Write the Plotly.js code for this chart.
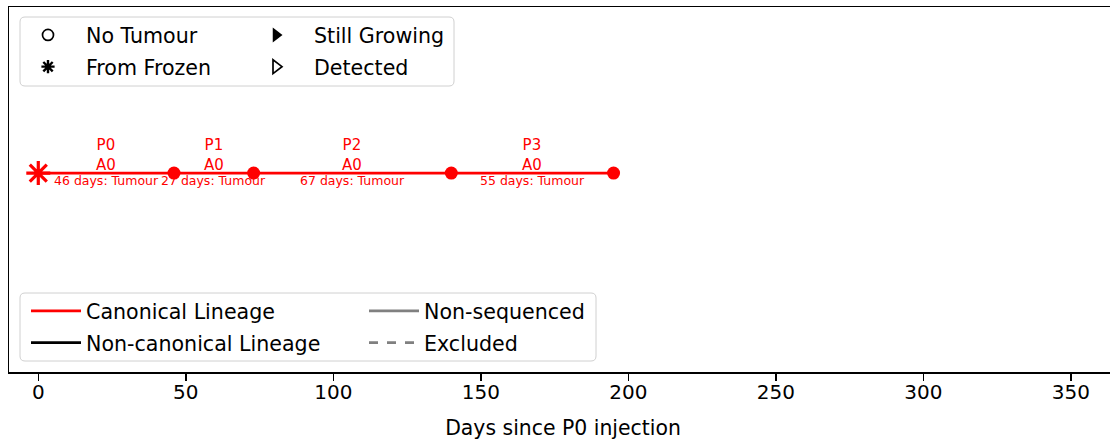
<!DOCTYPE html>
<html>
<head>
<meta charset="utf-8">
<script src="https://cdn.plot.ly/plotly-3.0.1.min.js"></script>
<style>
html, body { margin: 0; padding: 0; overflow: hidden; background: #fff; }
#chart { width: 1118px; height: 442px; }
</style>
</head>
<body>
<div id="chart"></div>
<script>
// ---- data ----
const eventDays = [0, 46, 73, 140, 195];
const passages = ['P0', 'P1', 'P2', 'P3'];
const arms = ['A0', 'A0', 'A0', 'A0'];
const intervalDays = [46, 27, 67, 55];
const outcomes = ['Tumour', 'Tumour', 'Tumour', 'Tumour'];
const lineageLevel = 0;
const xTickVals = [0, 50, 100, 150, 200, 250, 300, 350];
const xTickText = ['0', '50', '100', '150', '200', '250', '300', '350'];

// ---- layout geometry ----
const W = 1118, H = 442;
const M = { l: 9, r: 1, t: 7, b: 70 };
const plotW = W - M.l - M.r, plotH = H - M.t - M.b;
const px = v => (v - M.l) / plotW;
const py = v => (H - M.b - v) / plotH;
const FONT = 'DejaVu Sans';
const RED = '#ff0000';

function roundedBox(x0, y0, x1, y1, r) {
  const a = px(x0), b = px(x1), c = py(y0), d = py(y1);
  const rx = r / plotW, ry = r / plotH;
  return `M${a + rx},${c} L${b - rx},${c} Q${b},${c} ${b},${c - ry} ` +
         `L${b},${d + ry} Q${b},${d} ${b - rx},${d} L${a + rx},${d} ` +
         `Q${a},${d} ${a},${d + ry} L${a},${c - ry} Q${a},${c} ${a + rx},${c} Z`;
}

const ys = eventDays.map(() => lineageLevel);
const mids = passages.map((p, i) => (eventDays[i] + eventDays[i + 1]) / 2);

const traces = [
  { x: eventDays, y: ys, mode: 'lines', line: { color: RED, width: 2.6 },
    name: 'Canonical Lineage', legend: 'legend3', legendgroup: 'g5', hoverinfo: 'x' },
  { x: eventDays.slice(1), y: ys.slice(1), mode: 'markers',
    marker: { color: RED, size: 13, symbol: 'circle' }, showlegend: false },
  { x: eventDays.slice(0, 1), y: ys.slice(0, 1), mode: 'markers',
    marker: { color: RED, size: 20, symbol: 'asterisk-open', line: { color: RED, width: 3.2 } },
    showlegend: false },
  // legend proxies
  { x: [null], y: [null], mode: 'markers', name: 'No Tumour', legend: 'legend', legendgroup: 'g1',
    marker: { symbol: 'circle-open', size: 11, color: '#000', line: { color: '#000', width: 1.7 } } },
  { x: [null], y: [null], mode: 'markers', name: 'From Frozen', legend: 'legend', legendgroup: 'g2',
    marker: { symbol: 'asterisk-open', size: 11, color: '#000', line: { color: '#000', width: 2.4 } } },
  { x: [null], y: [null], mode: 'markers', name: 'Still Growing', legend: 'legend2', legendgroup: 'g3',
    marker: { symbol: 'triangle-right', size: 13, color: '#000' } },
  { x: [null], y: [null], mode: 'markers', name: 'Detected', legend: 'legend2', legendgroup: 'g4',
    marker: { symbol: 'triangle-right-open', size: 12, color: '#000', line: { color: '#000', width: 1.7 } } },
  { x: [null], y: [null], mode: 'lines', name: 'Non-canonical Lineage', legend: 'legend3', legendgroup: 'g6',
    line: { color: '#000', width: 2.6 } },
  { x: [null], y: [null], mode: 'lines', name: 'Non-sequenced', legend: 'legend4', legendgroup: 'g7',
    line: { color: '#808080', width: 2.6 } },
  { x: [null], y: [null], mode: 'lines', name: 'Excluded', legend: 'legend4', legendgroup: 'g8',
    line: { color: '#808080', width: 2.6, dash: 'dash' } }
];

const annotations = [];
passages.forEach((p, i) => {
  annotations.push({ x: mids[i], y: lineageLevel, xref: 'x', yref: 'y',
    text: p + '<br>' + arms[i], showarrow: false, xanchor: 'center', yanchor: 'bottom',
    yshift: -3, font: { family: FONT, size: 15, color: RED } });
  annotations.push({ x: mids[i], y: lineageLevel, xref: 'x', yref: 'y',
    text: intervalDays[i] + ' days: ' + outcomes[i], showarrow: false, xanchor: 'center', yanchor: 'top',
    yshift: 2, font: { family: FONT, size: 12.5, color: RED } });
});

function legendAt(xPix, topPix, itemwidth) {
  return { x: px(xPix), xanchor: 'left', y: py(topPix), yanchor: 'top',
    bgcolor: 'rgba(0,0,0,0)', borderwidth: 0, itemwidth: itemwidth, tracegroupgap: 2,
    font: { family: FONT, size: 20.6, color: '#000' } };
}

const layout = {
  width: W, height: H, margin: M,
  paper_bgcolor: '#fff', plot_bgcolor: '#fff',
  font: { family: FONT, size: 20, color: '#000' },
  showlegend: true,
  xaxis: { range: [-9.93, 365.66], tickvals: xTickVals, ticktext: xTickText,
    showgrid: false, zeroline: false, showline: true, mirror: true, linecolor: '#000', linewidth: 1.5,
    ticks: 'outside', ticklen: 7, tickwidth: 1.5, tickcolor: '#000', ticklabelstandoff: -6,
    tickfont: { family: FONT, size: 20, color: '#000' },
    title: { text: 'Days since P0 injection', standoff: 18, font: { family: FONT, size: 20.4, color: '#000' } } },
  yaxis: { range: [-0.545, 0.455], showticklabels: false, ticks: '', showgrid: false, zeroline: false,
    showline: true, mirror: true, linecolor: '#000', linewidth: 1.5 },
  annotations: annotations,
  shapes: [
    { type: 'path', xref: 'paper', yref: 'paper', path: roundedBox(20, 17, 454, 86, 5),
      fillcolor: 'rgba(255,255,255,0.8)', line: { color: '#d0d0d0', width: 1 }, layer: 'above' },
    { type: 'path', xref: 'paper', yref: 'paper', path: roundedBox(20, 293, 596, 361, 5),
      fillcolor: 'rgba(255,255,255,0.8)', line: { color: '#d0d0d0', width: 1 }, layer: 'above' }
  ],
  legend: legendAt(10, 15, 66),
  legend2: legendAt(238, 15, 66),
  legend3: legendAt(26, 291, 50),
  legend4: legendAt(364, 291, 50)
};

Plotly.newPlot('chart', traces, layout, { displayModeBar: false, staticPlot: true });
</script>
</body>
</html>
